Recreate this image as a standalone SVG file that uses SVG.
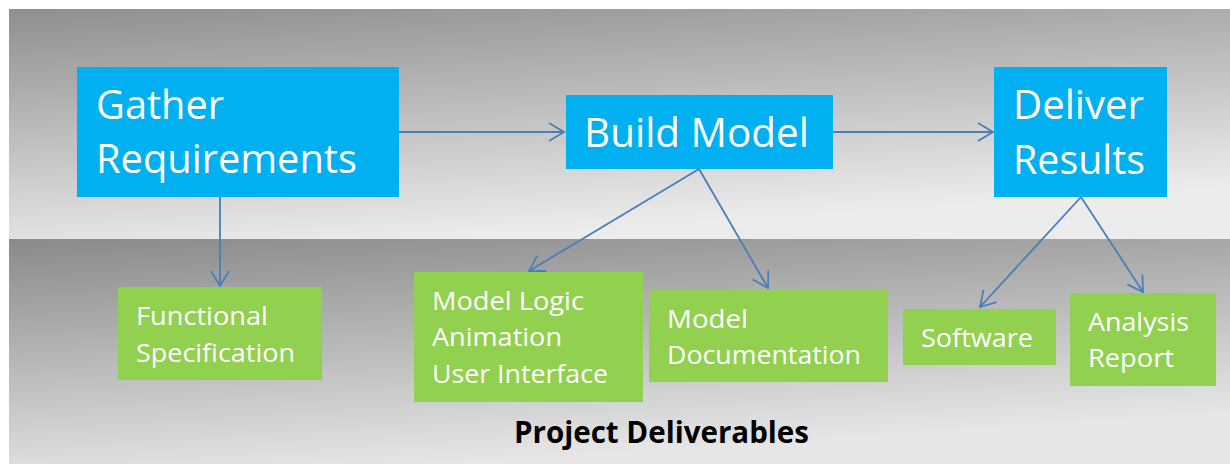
<svg xmlns="http://www.w3.org/2000/svg" width="1230" height="465" viewBox="0 0 1230 465">
<defs>
<linearGradient id="gTop" x1="0" y1="0" x2="0.35" y2="1">
<stop offset="0" stop-color="#8f8f8f"/>
<stop offset="1" stop-color="#ececec"/>
</linearGradient>
<linearGradient id="gBot" x1="0" y1="0" x2="0.35" y2="1">
<stop offset="0" stop-color="#8a8a8a"/>
<stop offset="1" stop-color="#e6e6e6"/>
</linearGradient>
<marker id="arr" markerUnits="userSpaceOnUse" markerWidth="20" markerHeight="22" viewBox="-16 -11 18 22" refX="0" refY="0" orient="auto">
<path d="M-15,-9 L0,0 L-15,9" fill="none" stroke="#4a7ebb" stroke-width="1.8"/>
</marker>
</defs>
<style>
.blue{fill:#00b0f0}
.green{fill:#92d050}
.big{font-family:"Open Sans","Liberation Sans",sans-serif;font-size:41px;fill:#fff}
.small{font-family:"Open Sans","Liberation Sans",sans-serif;font-size:26px;fill:#fff}
.title{font-family:"Open Sans","Liberation Sans",sans-serif;font-size:30px;font-weight:bold;fill:#000}
.conn{stroke:#4a7ebb;stroke-width:1.8;fill:none;marker-end:url(#arr)}
</style>
<rect x="9" y="9" width="1221" height="230" fill="url(#gTop)"/>
<rect x="9" y="239" width="1221" height="225" fill="url(#gBot)"/>
<g id="connectors">
<line class="conn" x1="399" y1="132" x2="564" y2="132"/>
<line class="conn" x1="833" y1="132" x2="993" y2="132"/>
<line class="conn" x1="220" y1="197" x2="220" y2="286"/>
<line class="conn" x1="699" y1="169" x2="529" y2="271"/>
<line class="conn" x1="699" y1="169" x2="768" y2="288"/>
<line class="conn" x1="1081" y1="197" x2="980" y2="307"/>
<line class="conn" x1="1081" y1="197" x2="1143" y2="292"/>
</g>
<g id="gather">
<rect class="blue" x="77" y="67" width="322" height="130"/>
<text class="big" x="96" y="119" textLength="128" lengthAdjust="spacingAndGlyphs">Gather</text>
<text class="big" x="96" y="173" textLength="261" lengthAdjust="spacingAndGlyphs">Requirements</text>
</g>
<g id="build">
<rect class="blue" x="566" y="95" width="267" height="74"/>
<text class="big" x="584" y="147" textLength="225" lengthAdjust="spacingAndGlyphs">Build Model</text>
</g>
<g id="deliver">
<rect class="blue" x="994" y="67" width="173" height="130"/>
<text class="big" x="1013" y="119" textLength="131" lengthAdjust="spacingAndGlyphs">Deliver</text>
<text class="big" x="1013" y="174" textLength="132" lengthAdjust="spacingAndGlyphs">Results</text>
</g>
<g id="funcspec">
<rect class="green" x="118" y="287" width="204" height="93"/>
<text class="small" x="136" y="325" textLength="132" lengthAdjust="spacingAndGlyphs">Functional</text>
<text class="small" x="136" y="362" textLength="159" lengthAdjust="spacingAndGlyphs">Specification</text>
</g>
<g id="modellogic">
<rect class="green" x="414" y="272" width="229" height="130"/>
<text class="small" x="432" y="310" textLength="152" lengthAdjust="spacingAndGlyphs">Model Logic</text>
<text class="small" x="432" y="346" textLength="130" lengthAdjust="spacingAndGlyphs">Animation</text>
<text class="small" x="432" y="383" textLength="176" lengthAdjust="spacingAndGlyphs">User Interface</text>
</g>
<g id="modeldoc">
<rect class="green" x="649" y="289" width="239" height="93"/>
<text class="small" x="667" y="328" textLength="81" lengthAdjust="spacingAndGlyphs">Model</text>
<text class="small" x="667" y="364" textLength="194" lengthAdjust="spacingAndGlyphs">Documentation</text>
</g>
<g id="software">
<rect class="green" x="903" y="309" width="153" height="56"/>
<text class="small" x="921" y="347" textLength="112" lengthAdjust="spacingAndGlyphs">Software</text>
</g>
<g id="analysis">
<rect class="green" x="1070" y="293" width="146" height="93"/>
<text class="small" x="1088" y="331" textLength="101" lengthAdjust="spacingAndGlyphs">Analysis</text>
<text class="small" x="1088" y="367" textLength="86" lengthAdjust="spacingAndGlyphs">Report</text>
</g>
<g id="caption">
<text class="title" x="514" y="443" textLength="295" lengthAdjust="spacingAndGlyphs">Project Deliverables</text>
</g>
</svg>
